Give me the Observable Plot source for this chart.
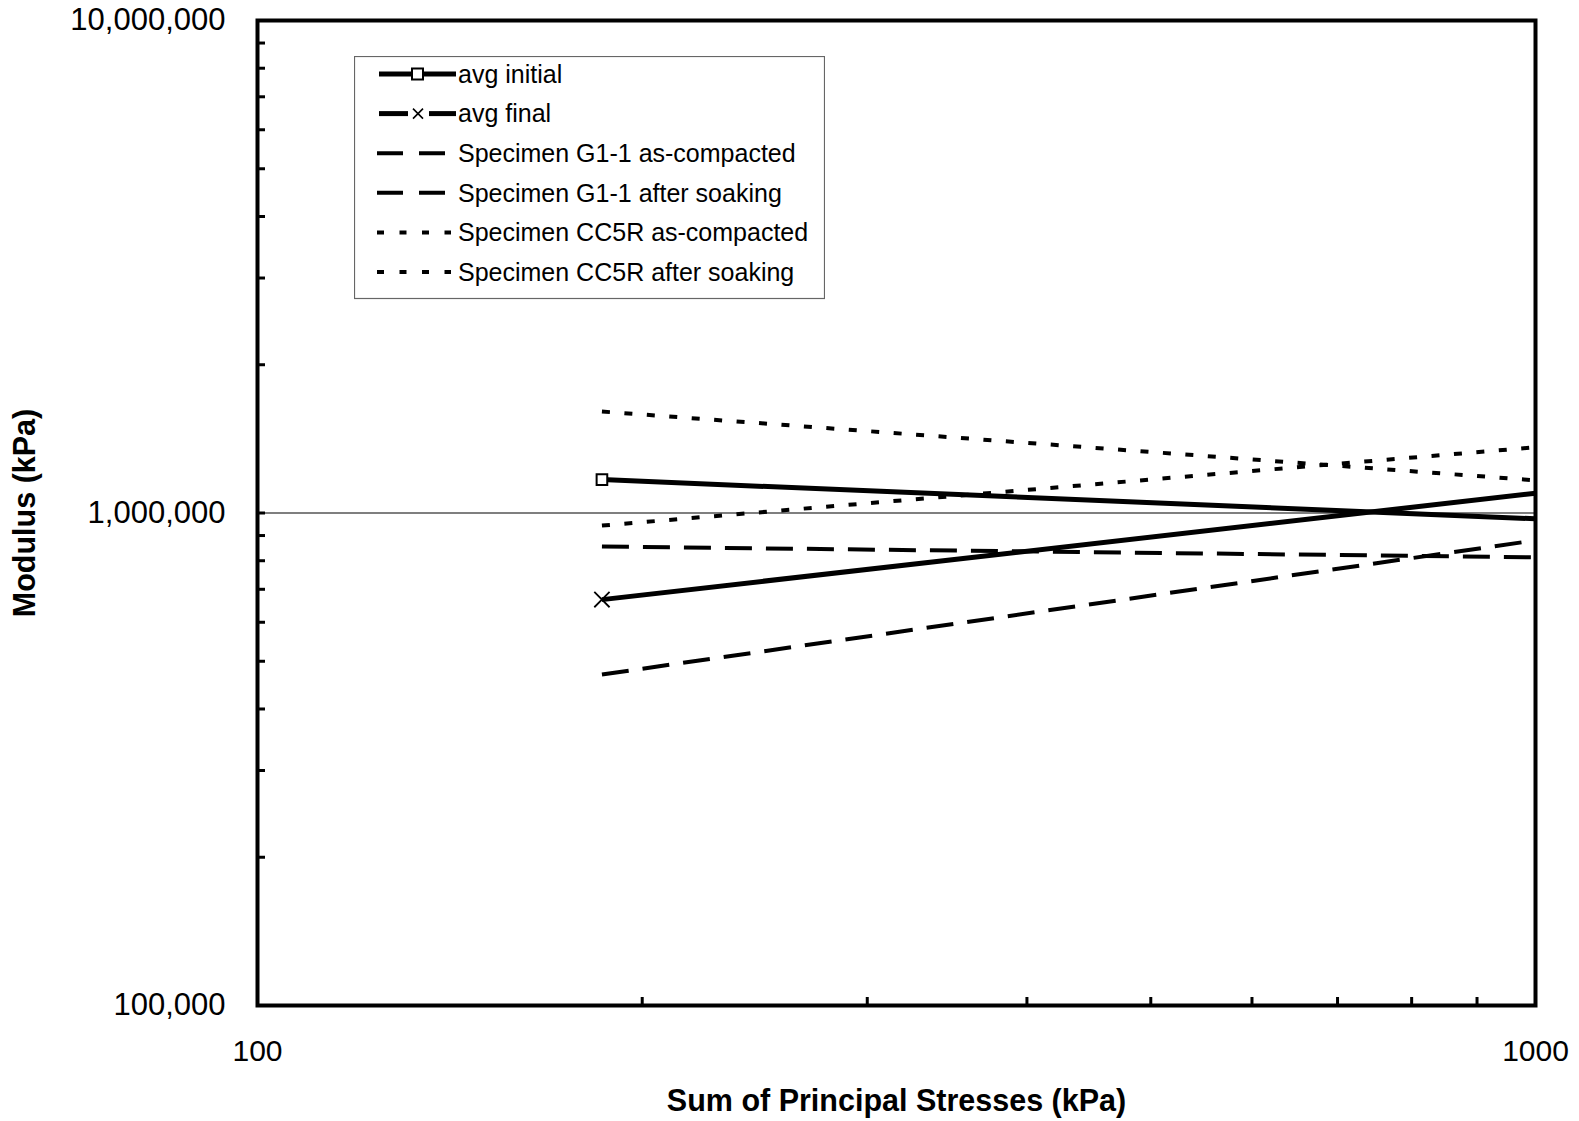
<!DOCTYPE html>
<html>
<head>
<meta charset="utf-8">
<script src="https://cdn.jsdelivr.net/npm/d3@7"></script>
<script src="https://cdn.jsdelivr.net/npm/@observablehq/plot@0.6"></script>
<style>
  body { margin: 0; background: #fff; }
  #wrap { position: relative; width: 1579px; height: 1121px; font-family: Arial, "Liberation Sans", sans-serif; }
  #legend { position: absolute; left: 354px; top: 56px; }
</style>
</head>
<body>
<div id="wrap"></div>
<script>
// ---- data ----
const stressX = [186, 1000];                       // sum of principal stresses (kPa)
const avgInitial = [1169000, 973000];
const avgFinal = [667000, 1097000];
const g1AsCompacted = [855000, 813000];
const g1AfterSoaking = [470000, 880000];
const cc5rAsCompacted = [1607000, 1165000];
const cc5rAfterSoaking = [943000, 1360000];
const seriesNames = [
  "avg initial",
  "avg final",
  "Specimen G1-1 as-compacted",
  "Specimen G1-1 after soaking",
  "Specimen CC5R as-compacted",
  "Specimen CC5R after soaking"
];
const xTickLabels = [100, 1000];
const yTickLabels = [100000, 1000000, 10000000];
const xTickMarks = [200, 300, 400, 500, 600, 700, 800, 900];
const yTickMarks = [200000, 300000, 400000, 500000, 600000, 700000, 800000, 900000,
                    1000000, 2000000, 3000000, 4000000, 5000000, 6000000, 7000000, 8000000, 9000000];
const xTitle = "Sum of Principal Stresses (kPa)";
const yTitle = "Modulus (kPa)";

// ---- table ----
const seriesValues = [avgInitial, avgFinal, g1AsCompacted, g1AfterSoaking, cc5rAsCompacted, cc5rAfterSoaking];
const rows = seriesNames.flatMap((s, i) => stressX.map((x, j) => ({series: s, x, y: seriesValues[i][j]})));

// ---- styles ----
const lineStyles = [
  {sw: 5, dash: null},
  {sw: 5, dash: null},
  {sw: 4, dash: "27,14"},
  {sw: 4, dash: "27,14"},
  {sw: 4, dash: "8,14.5"},
  {sw: 4, dash: "8,14.5"}
];
const FONT = 'Arial, "Liberation Sans", sans-serif';

const chart = Plot.plot({
  width: 1579,
  height: 1121,
  marginLeft: 257,
  marginRight: 44,
  marginTop: 20,
  marginBottom: 116,
  style: {fontFamily: FONT, fontSize: "30px", background: "white", color: "black", overflow: "visible"},
  x: {type: "log", domain: [100, 1000]},
  y: {type: "log", domain: [100000, 10000000]},
  marks: [
    Plot.ruleY([1000000], {stroke: "black", strokeWidth: 1.2}),
    ...seriesNames.map((s, i) => Plot.line(rows.filter(r => r.series === s), {
      x: "x", y: "y", stroke: "black",
      strokeWidth: lineStyles[i].sw,
      strokeDasharray: lineStyles[i].dash,
      strokeLinecap: "butt", strokeLinejoin: "miter"
    })),
    Plot.dot(rows.filter(r => r.series === seriesNames[0] && r.x === stressX[0]), {
      x: "x", y: "y", symbol: "square", r: 6, fill: "white", stroke: "black", strokeWidth: 2
    }),
    Plot.dot(rows.filter(r => r.series === seriesNames[1] && r.x === stressX[0]), {
      x: "x", y: "y", symbol: "times", r: 7, stroke: "black", strokeWidth: 1.8
    }),
    Plot.tickX(xTickMarks, {x: d => d, stroke: "black", strokeWidth: 3, insetTop: 977}),
    Plot.tickY(yTickMarks, {y: d => d, stroke: "black", strokeWidth: 3, insetRight: 1270}),
    Plot.frame({stroke: "black", strokeWidth: 4}),
    Plot.axisX({ticks: xTickLabels, tickFormat: d => String(d), tickSize: 0, tickPadding: 34, label: null, fontSize: 30}),
    Plot.axisY({ticks: yTickLabels, tickFormat: d3.format(","), tickSize: 0, tickPadding: 32, label: null, fontSize: 31}),
    Plot.text([xTitle], {frameAnchor: "bottom", dy: 105, text: d => d, fontWeight: "bold", fontSize: 30.5}),
    Plot.text([yTitle], {frameAnchor: "left", dx: -232, rotate: -90, textAnchor: "middle", text: d => d, fontWeight: "bold", fontSize: 30.5})
  ]
});

const wrap = document.getElementById("wrap");
wrap.appendChild(chart);

// ---- legend (inside plot area, overlaid) ----
const lg = d3.select(wrap).append("svg")
  .attr("id", "legend")
  .attr("width", 471).attr("height", 244)
  .style("font-family", FONT);
lg.append("rect").attr("x", 0.5).attr("y", 0.5).attr("width", 470).attr("height", 242)
  .attr("fill", "white").attr("stroke", "#666").attr("stroke-width", 1.2);

seriesNames.forEach((s, i) => {
  const y = 18 + 39.6 * i;
  const st = lineStyles[i];
  const g = lg.append("g");
  if (i === 0) {
    g.append("line").attr("x1", 25).attr("x2", 102).attr("y1", y).attr("y2", y)
      .attr("stroke", "black").attr("stroke-width", 5);
    g.append("rect").attr("x", 58).attr("y", y - 5.5).attr("width", 11).attr("height", 11)
      .attr("fill", "white").attr("stroke", "black").attr("stroke-width", 2);
  } else if (i === 1) {
    g.append("line").attr("x1", 25).attr("x2", 54).attr("y1", y).attr("y2", y)
      .attr("stroke", "black").attr("stroke-width", 5);
    g.append("line").attr("x1", 75).attr("x2", 102).attr("y1", y).attr("y2", y)
      .attr("stroke", "black").attr("stroke-width", 5);
    g.append("path").attr("d", `M${59},${y - 5}L${69},${y + 5}M${59},${y + 5}L${69},${y - 5}`)
      .attr("stroke", "black").attr("stroke-width", 1.6);
  } else {
    const dash = i < 4 ? "26,16" : "7,15.5";
    g.append("line").attr("x1", 23).attr("x2", 97).attr("y1", y).attr("y2", y)
      .attr("stroke", "black").attr("stroke-width", st.sw).attr("stroke-dasharray", dash);
  }
  g.append("text").attr("x", i < 2 ? 104 : 104).attr("y", y).attr("dy", "0.35em")
    .attr("font-size", 25).attr("fill", "black").text(s);
});
</script>
</body>
</html>
